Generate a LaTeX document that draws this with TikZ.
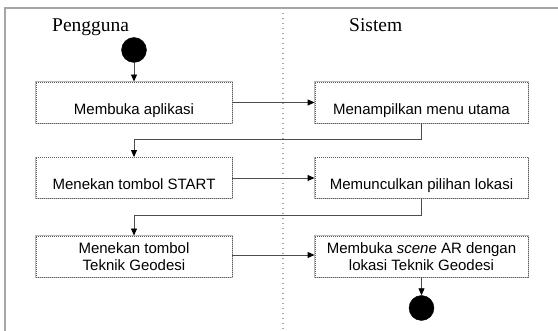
\documentclass[tikz,border=0pt]{standalone}
\usepackage{fontspec}
\setmainfont{Liberation Serif}
\newfontfamily\boxfont{Liberation Sans}
\usetikzlibrary{arrows.meta}
\begin{document}
\begin{tikzpicture}[x=1pt,y=-1pt,
  actbox/.style={draw=gray!70!black, dash pattern=on 1pt off 1pt, line width=0.9pt,
    preaction={draw=gray!55, line width=1.6pt, solid},
    fill=white, inner xsep=2pt, inner ysep=0pt, font=\boxfont\fontsize{15}{16.5}\selectfont},
  onebox/.style={actbox, text height=32.5pt, text depth=8.5pt},
  twobox/.style={actbox, minimum height=41pt, align=center},
  conn/.style={draw=gray!60!black, line width=0.9pt, -{Triangle[length=7pt,width=6pt,color=black]}},
  lane/.style={font=\fontsize{19.5}{22}\selectfont, inner sep=0pt, anchor=base west},
  dot/.style={circle, fill=black, draw=black, minimum size=25pt, inner sep=0pt}
]
\useasboundingbox (0,0) rectangle (558,331);
% frame
\draw[gray!70, line width=1.3pt] (558,8) -- (5,8) -- (5,331);
\draw[gray!70, line width=1.3pt, dash pattern=on 1.3pt off 3.7pt] (283,8) -- (283,331);
% lane titles
\node[lane] (pg) at (52,31.5) {Pengguna};
\node[lane] (si) at (349,31.5) {Sistem};
% nodes
\node[dot] (start) at (134,50) {};
\node[onebox, minimum width=196pt] (a1) at (134,102.5) {Membuka aplikasi};
\node[onebox, minimum width=213pt] (b1) at (421.5,102.5) {Menampilkan menu utama};
\node[onebox, minimum width=196pt] (a2) at (134,178) {Menekan tombol START};
\node[onebox, minimum width=213pt] (b2) at (421.5,178) {Memunculkan pilihan lokasi};
\node[twobox, minimum width=196pt] (a3) at (134,256.5) {Menekan tombol\\Teknik Geodesi};
\node[twobox, minimum width=213pt] (b3) at (421.5,256.5) {Membuka \textit{scene} AR dengan\\lokasi Teknik Geodesi};
\node[dot] (end) at (421.5,308) {};
% connectors
\draw[conn] (start) -- (a1);
\draw[conn] (a1) -- (b1);
\draw[conn] (b1.south) |- (134,139) -- (a2.north);
\draw[conn] (a2) -- (b2);
\draw[conn] (b2.south) |- (134,215) -- (a3.north);
\draw[conn] (a3.east |- 0,255) -- (b3.west |- 0,255);
\draw[conn] (b3) -- (end);
\end{tikzpicture}
\end{document}
